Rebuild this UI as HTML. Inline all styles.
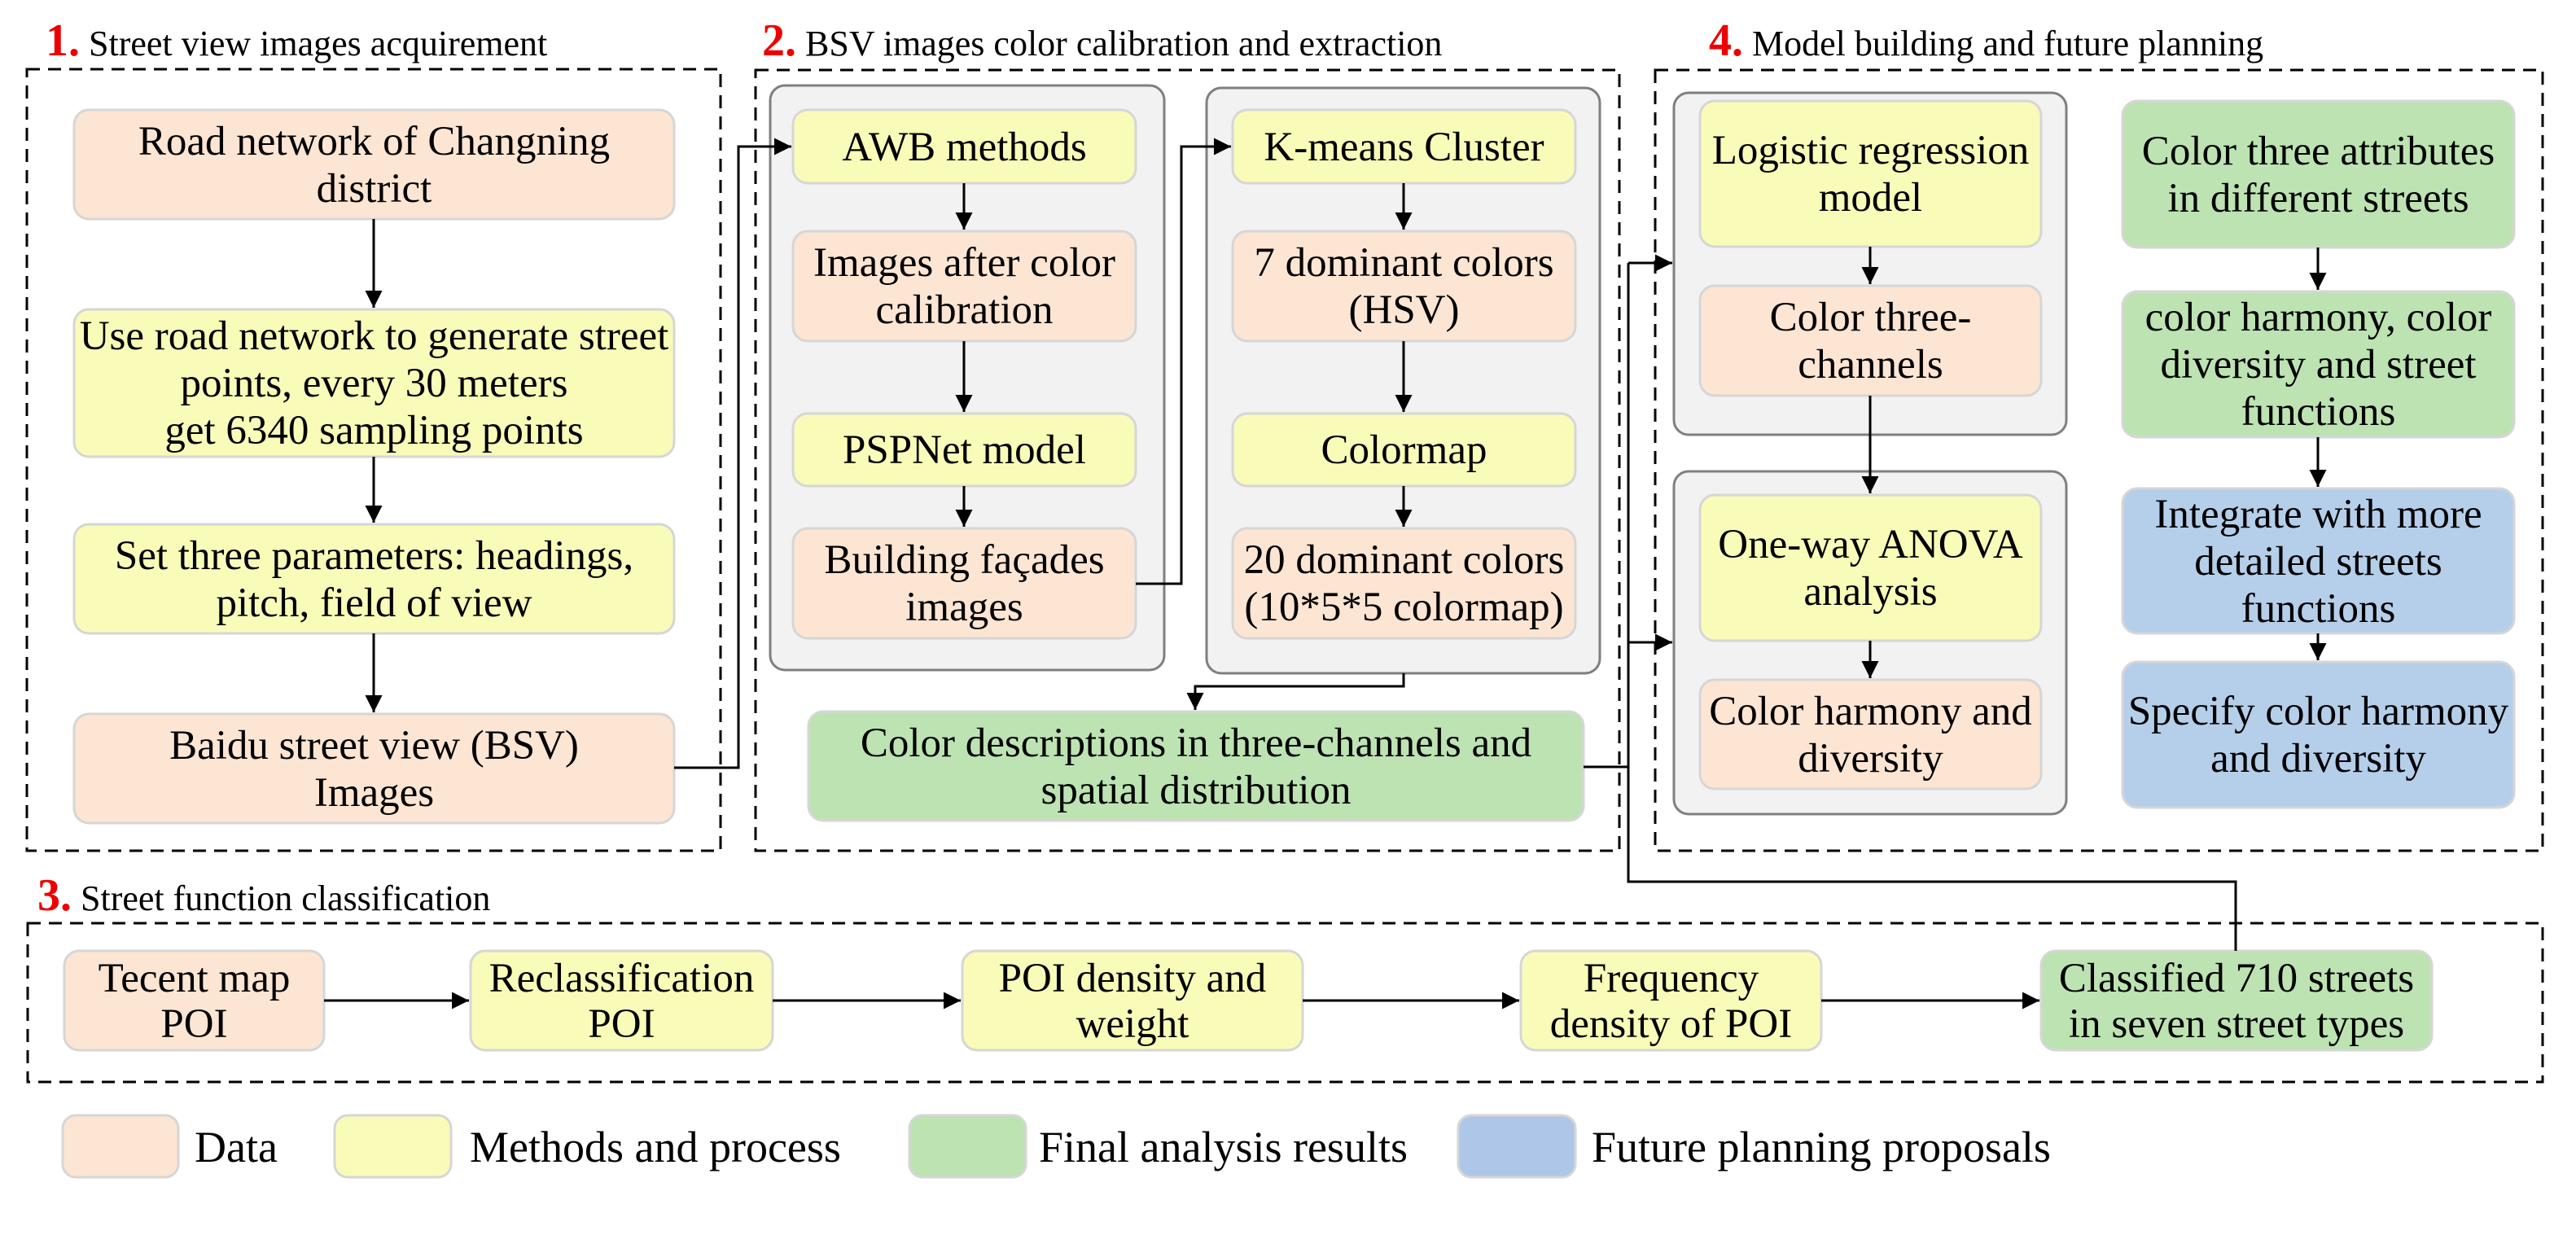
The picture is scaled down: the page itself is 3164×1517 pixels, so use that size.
<!DOCTYPE html>
<html><head><meta charset="utf-8"><style>
html,body{margin:0;padding:0;background:#fff}
svg{display:block}
text{font-family:"Liberation Serif",serif;fill:#000}
</style></head><body>
<svg width="3164" height="1517" viewBox="0 0 3164 1517" xmlns="http://www.w3.org/2000/svg" font-family="Liberation Serif, serif">
<defs>
<marker id="a" markerWidth="8" markerHeight="8" refX="7" refY="4" orient="auto" markerUnits="strokeWidth">
<path d="M0,0.5 L7,4 L0,7.5 Z" fill="#000"/></marker>
</defs>
<g fill="none" stroke="#000" stroke-width="3" stroke-dasharray="16,10">
<rect x="33" y="85" width="852" height="960"/>
<rect x="928" y="86" width="1061" height="959"/>
<rect x="2033" y="86" width="1090" height="959"/>
<rect x="34" y="1134" width="3089" height="195"/>
</g>
<g font-size="44">
<text x="56" y="68"><tspan fill="#e00" font-weight="bold" font-size="56">1.</tspan> Street view images acquirement</text>
<text x="936" y="68"><tspan fill="#e00" font-weight="bold" font-size="56">2.</tspan> BSV images color calibration and extraction</text>
<text x="2099" y="68"><tspan fill="#e00" font-weight="bold" font-size="56">4.</tspan> Model building and future planning</text>
<text x="46" y="1118"><tspan fill="#e00" font-weight="bold" font-size="56">3.</tspan> Street function classification</text>
</g>
<g stroke="#7f7f7f" stroke-width="3" fill="#f2f2f2">
<rect x="946" y="105" width="484" height="718" rx="18"/>
<rect x="1482" y="108" width="483" height="719" rx="18"/>
<rect x="2056" y="114" width="482" height="420" rx="18"/>
<rect x="2056" y="579" width="482" height="421" rx="18"/>
</g>
<g stroke="#d6d6d6" stroke-width="3">
<rect x="91" y="135" width="737" height="134" rx="18" fill="#fde5d3"/>
<rect x="91" y="380" width="737" height="181" rx="18" fill="#f9fbb9"/>
<rect x="91" y="644" width="737" height="134" rx="18" fill="#f9fbb9"/>
<rect x="91" y="877" width="737" height="134" rx="18" fill="#fde5d3"/>
<rect x="974" y="135" width="421" height="90" rx="18" fill="#f9fbb9"/>
<rect x="974" y="284" width="421" height="135" rx="18" fill="#fde5d3"/>
<rect x="974" y="508" width="421" height="89" rx="18" fill="#f9fbb9"/>
<rect x="974" y="649" width="421" height="135" rx="18" fill="#fde5d3"/>
<rect x="1514" y="135" width="421" height="90" rx="18" fill="#f9fbb9"/>
<rect x="1514" y="284" width="421" height="135" rx="18" fill="#fde5d3"/>
<rect x="1514" y="508" width="421" height="89" rx="18" fill="#f9fbb9"/>
<rect x="1514" y="649" width="421" height="135" rx="18" fill="#fde5d3"/>
<rect x="993" y="874" width="952" height="134" rx="18" fill="#bde3b3"/>
<rect x="2088" y="124" width="419" height="179" rx="18" fill="#f9fbb9"/>
<rect x="2088" y="351" width="419" height="135" rx="18" fill="#fde5d3"/>
<rect x="2088" y="608" width="419" height="179" rx="18" fill="#f9fbb9"/>
<rect x="2088" y="835" width="419" height="134" rx="18" fill="#fde5d3"/>
<rect x="2607" y="124" width="481" height="180" rx="18" fill="#bde3b3"/>
<rect x="2607" y="358" width="481" height="179" rx="18" fill="#bde3b3"/>
<rect x="2607" y="600" width="481" height="178" rx="18" fill="#b5cfea"/>
<rect x="2607" y="813" width="481" height="179" rx="18" fill="#b5cfea"/>
<rect x="79" y="1168" width="319" height="122" rx="18" fill="#fde5d3"/>
<rect x="578" y="1168" width="371" height="122" rx="18" fill="#f9fbb9"/>
<rect x="1182" y="1168" width="418" height="122" rx="18" fill="#f9fbb9"/>
<rect x="1868" y="1168" width="369" height="122" rx="18" fill="#f9fbb9"/>
<rect x="2507" y="1168" width="480" height="122" rx="18" fill="#bde3b3"/>
<rect x="77" y="1370" width="142" height="76" rx="16" fill="#fde5d3"/>
<rect x="411" y="1370" width="143" height="76" rx="16" fill="#f9fbb9"/>
<rect x="1117" y="1370" width="143" height="76" rx="16" fill="#bde3b3"/>
<rect x="1791" y="1370" width="144" height="76" rx="16" fill="#aec7e8"/>
</g>
<g fill="none" stroke="#000" stroke-width="3">
<path d="M459,269 V378" marker-end="url(#a)"/>
<path d="M459,561 V642" marker-end="url(#a)"/>
<path d="M459,778 V875" marker-end="url(#a)"/>
<path d="M1184,225 V282" marker-end="url(#a)"/>
<path d="M1184,419 V506" marker-end="url(#a)"/>
<path d="M1184,597 V647" marker-end="url(#a)"/>
<path d="M1724,225 V282" marker-end="url(#a)"/>
<path d="M1724,419 V506" marker-end="url(#a)"/>
<path d="M1724,597 V647" marker-end="url(#a)"/>
<path d="M2297,303 V349" marker-end="url(#a)"/>
<path d="M2297,486 V606" marker-end="url(#a)"/>
<path d="M2297,787 V833" marker-end="url(#a)"/>
<path d="M2847,304 V356" marker-end="url(#a)"/>
<path d="M2847,537 V598" marker-end="url(#a)"/>
<path d="M2847,778 V811" marker-end="url(#a)"/>
<path d="M828,943 H907 V180 H972" marker-end="url(#a)"/>
<path d="M1395,717 H1451 V180 H1512" marker-end="url(#a)"/>
<path d="M1724,827 V843 H1468 V872" marker-end="url(#a)"/>
<path d="M1945,942 H2000"/>
<path d="M2000,323 V1083 H2746 V1168"/>
<path d="M2000,323 H2054" marker-end="url(#a)"/>
<path d="M2000,789 H2054" marker-end="url(#a)"/>
<path d="M398,1229 H576" marker-end="url(#a)"/>
<path d="M949,1229 H1180" marker-end="url(#a)"/>
<path d="M1600,1229 H1866" marker-end="url(#a)"/>
<path d="M2237,1229 H2505" marker-end="url(#a)"/>
</g>
<g font-size="51" text-anchor="middle">
<text x="459.5" y="190">Road network of Changning</text>
<text x="459.5" y="248">district</text>
<text x="459.5" y="429">Use road network to generate street</text>
<text x="459.5" y="487">points, every 30 meters</text>
<text x="459.5" y="545">get 6340 sampling points</text>
<text x="459.5" y="699">Set three parameters: headings,</text>
<text x="459.5" y="757">pitch, field of view</text>
<text x="459.5" y="932">Baidu street view (BSV)</text>
<text x="459.5" y="990">Images</text>
<text x="1184.5" y="197">AWB methods</text>
<text x="1184.5" y="339">Images after color</text>
<text x="1184.5" y="397">calibration</text>
<text x="1184.5" y="569">PSPNet model</text>
<text x="1184.5" y="704">Building façades</text>
<text x="1184.5" y="762">images</text>
<text x="1724.5" y="197">K-means Cluster</text>
<text x="1724.5" y="339">7 dominant colors</text>
<text x="1724.5" y="397">(HSV)</text>
<text x="1724.5" y="569">Colormap</text>
<text x="1724.5" y="704">20 dominant colors</text>
<text x="1724.5" y="762">(10*5*5 colormap)</text>
<text x="1469" y="929">Color descriptions in three-channels and</text>
<text x="1469" y="987">spatial distribution</text>
<text x="2297.5" y="201">Logistic regression</text>
<text x="2297.5" y="259">model</text>
<text x="2297.5" y="406">Color three-</text>
<text x="2297.5" y="464">channels</text>
<text x="2297.5" y="685">One-way ANOVA</text>
<text x="2297.5" y="743">analysis</text>
<text x="2297.5" y="890">Color harmony and</text>
<text x="2297.5" y="948">diversity</text>
<text x="2847.5" y="202">Color three attributes</text>
<text x="2847.5" y="260">in different streets</text>
<text x="2847.5" y="406">color harmony, color</text>
<text x="2847.5" y="464">diversity and street</text>
<text x="2847.5" y="522">functions</text>
<text x="2847.5" y="648">Integrate with more</text>
<text x="2847.5" y="706">detailed streets</text>
<text x="2847.5" y="764">functions</text>
<text x="2847.5" y="890">Specify color harmony</text>
<text x="2847.5" y="948">and diversity</text>
<text x="238.5" y="1218">Tecent map</text>
<text x="238.5" y="1274">POI</text>
<text x="763.5" y="1218">Reclassification</text>
<text x="763.5" y="1274">POI</text>
<text x="1391" y="1218">POI density and</text>
<text x="1391" y="1274">weight</text>
<text x="2052.5" y="1218">Frequency</text>
<text x="2052.5" y="1274">density of POI</text>
<text x="2747" y="1218">Classified 710 streets</text>
<text x="2747" y="1274">in seven street types</text>
</g>
<g font-size="54">
<text x="239" y="1427">Data</text>
<text x="577" y="1427">Methods and process</text>
<text x="1276" y="1427">Final analysis results</text>
<text x="1955" y="1427">Future planning proposals</text>
</g>
</svg>
</body></html>
